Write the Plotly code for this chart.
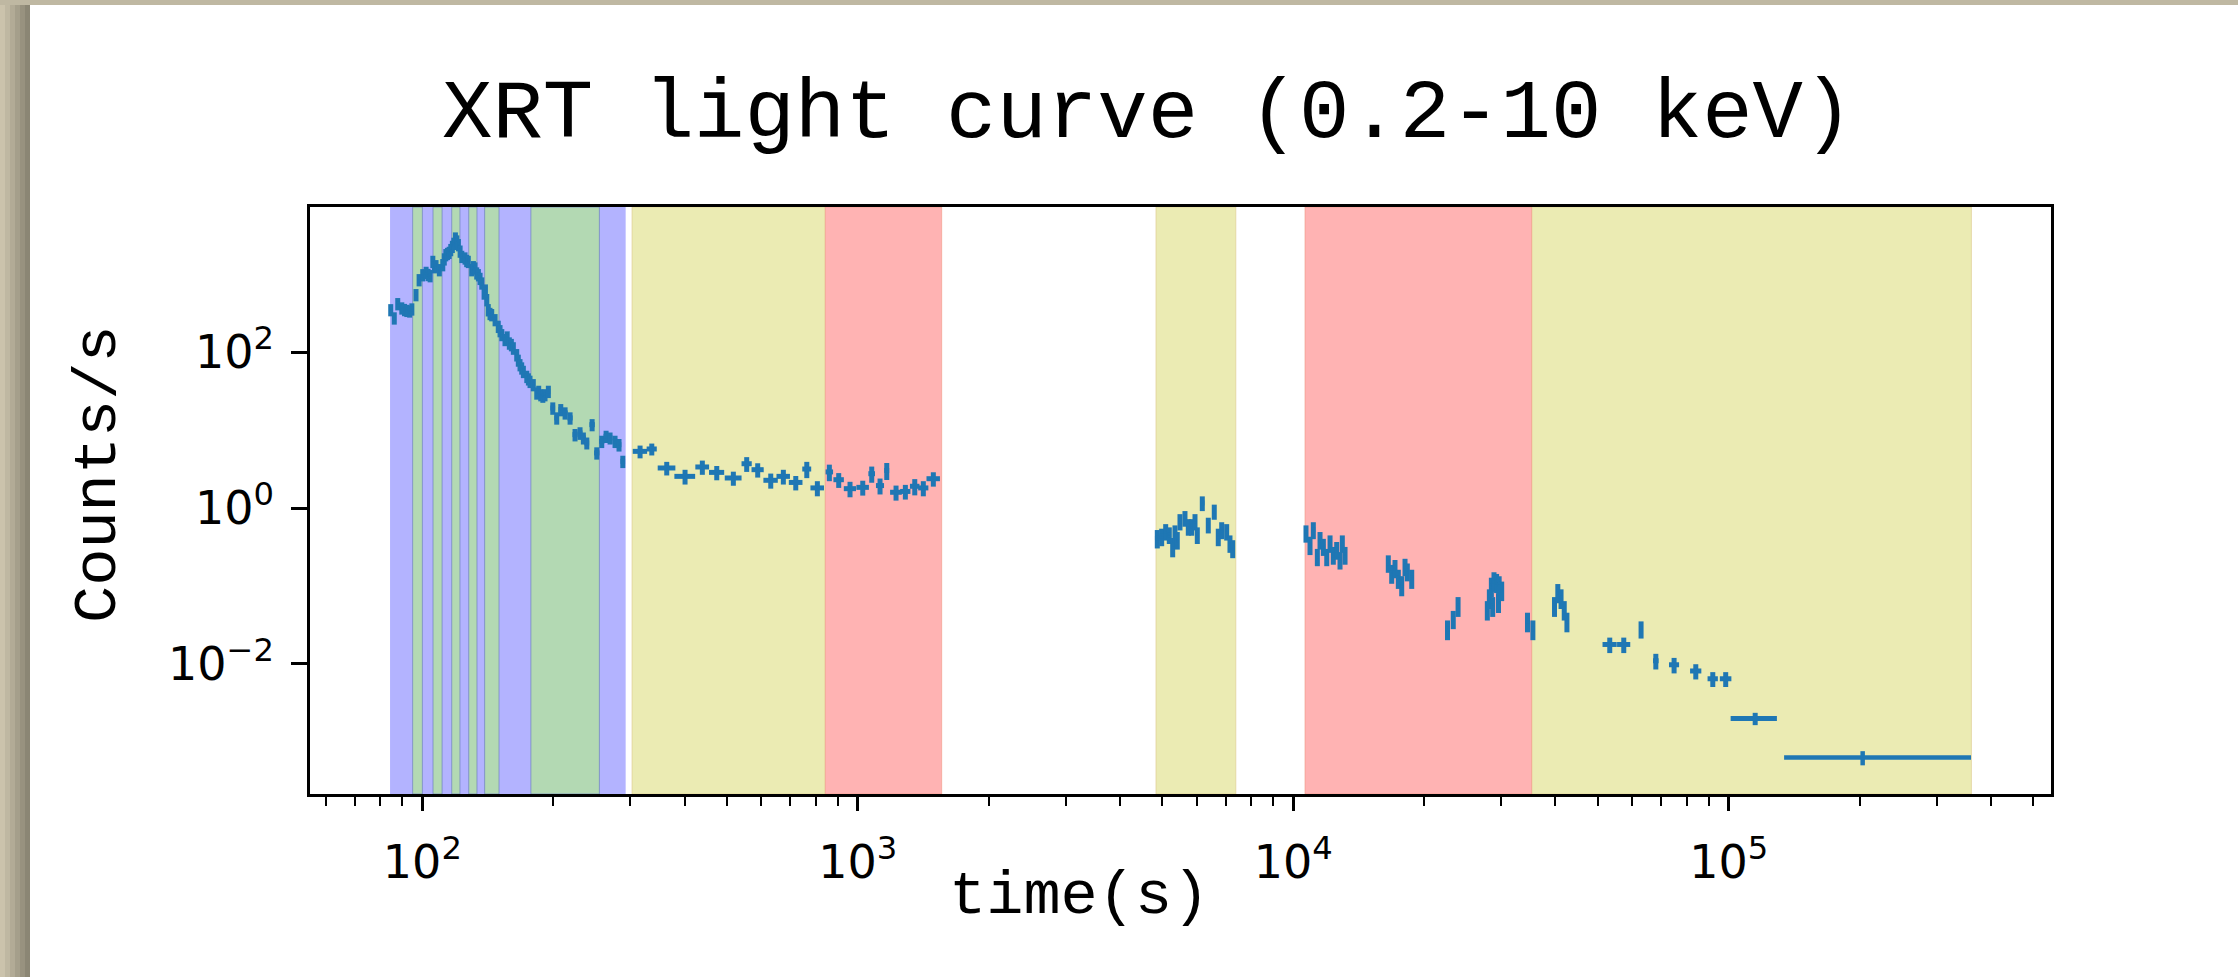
import plotly.graph_objects as go

# ---------------- data ----------------
time = [
    84.6, 86.2, 87.8, 89.7, 91.0, 92.1, 93.5, 94.6, 96.7, 98.3,
    100.2, 102.0, 103.1, 104.2, 105.7, 106.6, 107.5, 109.4, 111.4, 112.3,
    113.2, 114.2, 115.2, 116.2, 117.2, 118.1, 119.1, 120.0, 121.0, 122.1,
    123.2, 125.3, 126.4, 127.5, 129.8, 131.0, 132.1, 133.3, 134.5, 135.7,
    136.9, 138.6, 139.6, 140.6, 141.7, 143.0, 144.3, 146.9, 149.4, 150.8,
    152.2, 154.8, 156.6, 158.4, 160.1, 161.8, 164.7, 166.1, 167.6, 169.1,
    170.6, 173.7, 175.2, 176.7, 179.8, 183.1, 185.0, 187.0, 189.1, 191.3,
    194.7, 199.3, 203.5, 207.9, 212.7, 218.4, 224.2, 230.2, 234.3, 238.6,
    245.4, 251.5, 258.2, 264.2, 269.8, 277.0, 282.9, 288.6,
    316.2, 336.4, 364.1, 401.1, 439.5, 474.3, 517.8, 555.7, 589.0, 631.0,
    674.5, 720.3, 763.5, 807.4, 860.3, 903.9, 959.6, 1026.4, 1076.3, 1124.7,
    1165.3, 1224.0, 1285.8, 1351.3, 1414.0, 1490.8,
    4872, 4986, 5093, 5191, 5285, 5350, 5415, 5493, 5640, 5740,
    5844, 5947, 6020, 6181, 6380, 6585, 6726, 6848, 7031, 7155, 7259,
    10695, 10925, 11118, 11356, 11519, 11723, 11935, 12146, 12357, 12581,
    12803, 12960, 13147,
    16527, 16826, 17123, 17426, 17741, 18054, 18275, 18706,
    22600, 23300, 23900,
    27900, 28200, 28500, 28700, 28900, 29300, 29600, 29700, 30100,
    34500, 35500,
    39800, 40500, 41200, 41900, 42500,
    53300, 57400, 62900, 68000, 74900, 84000, 91900, 98400, 115000,
]
time_err = [
    0.7, 0.7, 0.7, 0.7, 0.7, 0.7, 0.7, 0.7, 0.7, 0.7,
    0.7, 0.7, 0.7, 0.7, 0.7, 0.7, 0.7, 0.7, 0.7, 0.7,
    0.7, 0.7, 0.7, 0.7, 0.7, 0.7, 0.7, 0.7, 0.7, 0.7,
    0.7, 0.7, 0.7, 0.7, 1.0, 1.0, 1.0, 1.0, 1.0, 1.0,
    1.0, 1.0, 1.0, 1.0, 1.0, 1.0, 1.0, 1.0, 1.0, 1.0,
    1.0, 1.0, 1.0, 1.0, 1.0, 1.0, 1.0, 1.0, 1.0, 1.0,
    1.0, 1.0, 1.0, 1.0, 1.0, 1.5, 1.5, 1.5, 1.5, 1.5,
    2.0, 2.5, 2.5, 2.5, 3.0, 3.0, 3.0, 3.0, 3.0, 3.0,
    3.5, 3.5, 3.5, 3.5, 3.5, 3.5, 3.5, 3.5,
    12, 9, 17, 22, 16, 19, 23, 15, 19, 24,
    24, 26, 18, 29, 17, 25, 31, 34, 19, 24,
    15, 38, 35, 34, 38, 53,
    60, 55, 50, 45, 45, 35, 35, 45, 55, 50,
    50, 45, 40, 70, 50, 60, 55, 55, 60, 55, 50,
    100, 100, 110, 100, 100, 110, 110, 110, 110, 120,
    120, 110, 120,
    150, 150, 150, 150, 150, 150, 150, 150,
    200, 200, 200,
    200, 200, 200, 200, 200, 200, 200, 200, 200,
    300, 300,
    300, 300, 300, 300, 300,
    2000, 2000, 500, 1000, 2000, 2500, 2500, 3000, 14000,
]
rate = [
    353, 277, 422, 372, 355, 346, 340, 361, 551, 857,
    993, 1064, 1000, 966, 1472, 1259, 1297, 1153, 1337, 1585,
    1795, 1862, 1923, 2089, 2296, 2512, 2938, 2692, 2415, 1995,
    1706, 1629, 1514, 1472, 1153, 1259, 1211, 1047, 993, 891,
    778, 578, 631, 475, 353, 316, 305, 263, 216, 190,
    169, 146, 158, 132, 126, 114, 93.3, 79.4, 69.5, 63.1,
    57.0, 49.2, 45.7, 42.5, 38.5, 30.1, 31.6, 28.6, 27.5, 28.6,
    31.6, 19.3, 14.4, 18.4, 16.7, 14.4, 8.79, 9.23, 7.96, 6.87,
    11.8, 5.12, 7.21, 8.36, 7.96, 7.21, 6.53, 3.99,
    5.36, 5.75, 3.28, 2.56, 3.38, 2.88, 2.44, 3.72, 3.12, 2.28,
    2.56, 2.14, 3.18, 1.82, 2.92, 2.32, 1.78, 1.85, 2.77, 1.95,
    3.05, 1.60, 1.64, 1.91, 1.82, 2.39,
    0.414, 0.435, 0.504, 0.457, 0.324, 0.481, 0.394, 0.678, 0.748, 0.583,
    0.583, 0.678, 0.457, 1.167, 0.614, 0.910, 0.435, 0.530, 0.504, 0.357, 0.308,
    0.481, 0.340, 0.530, 0.240, 0.394, 0.324, 0.240, 0.357, 0.253, 0.293,
    0.218, 0.357, 0.253,
    0.198, 0.147, 0.171, 0.127, 0.104, 0.179, 0.155, 0.127,
    0.0282, 0.0380, 0.0562,
    0.0501, 0.0708, 0.100, 0.0562, 0.1175, 0.1122, 0.0631, 0.1047, 0.0891,
    0.0355, 0.0282,
    0.0562, 0.0832, 0.0708, 0.0501, 0.0355,
    0.0178, 0.0178, 0.0282, 0.0110, 0.00977, 0.00813, 0.00646, 0.00646, 0.0020,
]
rate_err = [
    63, 50, 76, 67, 64, 62, 61, 65, 99, 154,
    179, 192, 180, 174, 265, 227, 233, 208, 241, 285,
    323, 335, 346, 376, 413, 452, 529, 485, 435, 359,
    307, 293, 273, 265, 208, 227, 218, 188, 179, 160,
    140, 104, 114, 86, 64, 57, 55, 47, 39, 34,
    30, 26, 28, 24, 23, 21, 17, 14, 12.5, 11.4,
    10.3, 8.9, 8.2, 7.7, 6.9, 5.4, 5.7, 5.1, 5.0, 5.1,
    5.7, 3.5, 2.6, 3.3, 3.0, 2.6, 1.6, 1.7, 1.4, 1.2,
    2.1, 0.92, 1.3, 1.5, 1.4, 1.3, 1.2, 0.72,
    1.0, 1.0, 0.65, 0.55, 0.7, 0.6, 0.5, 0.8, 0.65, 0.5,
    0.55, 0.45, 0.75, 0.4, 0.7, 0.5, 0.4, 0.4, 0.65, 0.45,
    0.75, 0.35, 0.35, 0.45, 0.4, 0.5,
    0.11, 0.11, 0.12, 0.11, 0.09, 0.12, 0.10, 0.16, 0.17, 0.14,
    0.14, 0.16, 0.11, 0.25, 0.14, 0.20, 0.11, 0.13, 0.12, 0.09, 0.08,
    0.12, 0.09, 0.13, 0.06, 0.10, 0.08, 0.06, 0.09, 0.065, 0.075,
    0.055, 0.09, 0.065,
    0.05, 0.04, 0.045, 0.035, 0.03, 0.045, 0.04, 0.035,
    0.008, 0.010, 0.016,
    0.014, 0.020, 0.028, 0.016, 0.033, 0.031, 0.018, 0.029, 0.025,
    0.010, 0.008,
    0.016, 0.023, 0.020, 0.014, 0.010,
    0.004, 0.004, 0.007, 0.0025, 0.0022, 0.0018, 0.0014, 0.0014, 0.00036,
]

# last (long) bin with asymmetric time error
final_time = [2.03e5]
final_time_err_minus = [6.9e4]
final_time_err_plus = [1.57e5]
final_rate = [6.3e-4]
final_rate_err = [1.3e-4]

# shaded time intervals
blue_bands = [(84.3, 293.0)]
green_bands = [(95.0, 100.0), (105.8, 111.0), (116.8, 122.0), (127.8, 133.5),
               (139.0, 150.0), (177.5, 255.0)]
yellow_bands = [(303.0, 842.0), (4838.0, 7380.0), (35270.0, 360800.0)]
red_bands = [(842.0, 1558.0), (10640.0, 35270.0)]

x_tick_vals = [1e2, 1e3, 1e4, 1e5]
x_tick_text = ["10<sup>2</sup>", "10<sup>3</sup>", "10<sup>4</sup>", "10<sup>5</sup>"]
y_tick_vals = [1e-2, 1e0, 1e2]
y_tick_text = ["10<sup>\u22122</sup>", "10<sup>0</sup>", "10<sup>2</sup>"]

# ---------------- figure ----------------
W, H = 2238, 977
L, R, T, B = 310, 2051, 207, 794   # plot area in pixels
PW, PH = R - L, B - T


def px_x(px):
    return (px - L) / PW


def px_y(py):
    return (B - py) / PH


assert len(time) == len(time_err) == len(rate) == len(rate_err)

fig = go.Figure()
blue = "#1f77b4"
fig.add_trace(go.Scatter(
    x=time, y=rate, mode="markers",
    marker=dict(size=1, color=blue),
    error_x=dict(type="data", array=time_err, thickness=5, width=0, color=blue),
    error_y=dict(type="data", array=rate_err, thickness=5, width=0, color=blue),
    showlegend=False, hoverinfo="x+y",
))
fig.add_trace(go.Scatter(
    x=final_time, y=final_rate, mode="markers",
    marker=dict(size=1, color=blue),
    error_x=dict(type="data", array=final_time_err_plus, arrayminus=final_time_err_minus,
                 symmetric=False, thickness=4.5, width=0, color=blue),
    error_y=dict(type="data", array=final_rate_err, thickness=4.5, width=0, color=blue),
    showlegend=False, hoverinfo="x+y",
))

shapes = []


def band(x0, x1, fill, edge):
    shapes.append(dict(type="rect", xref="x", yref="paper", x0=x0, x1=x1, y0=0, y1=1,
                       fillcolor=fill, line=dict(color=edge, width=1), layer="below"))


for a, b in blue_bands:
    band(a, b, "#b3b3ff", "rgba(0,0,0,0)")
for a, b in green_bands:
    band(a, b, "#b3d9b3", "rgba(110,130,190,0.7)")
for a, b in yellow_bands:
    band(a, b, "#ebebb3", "rgba(220,200,140,0.6)")
for a, b in red_bands:
    band(a, b, "#ffb3b3", "rgba(240,150,130,0.6)")

# beige picture frame (left and top edges)
frame_cols = ["#cbc3ac", "#bfb8a2", "#b2ab96", "#a59f8b", "#98927f", "#8b8674"]
for i, c in enumerate(frame_cols):
    shapes.append(dict(type="rect", xref="paper", yref="paper",
                       x0=px_x(i * 5), x1=px_x(i * 5 + 5), y0=px_y(H), y1=px_y(0),
                       fillcolor=c, line=dict(width=0), layer="above"))
shapes.append(dict(type="rect", xref="paper", yref="paper",
                   x0=px_x(0), x1=px_x(W), y0=px_y(5), y1=px_y(0),
                   fillcolor="#bfb8a2", line=dict(width=0), layer="above"))

mono = "Liberation Mono, Courier New, monospace"
annotations = [
    dict(text="XRT light curve (0.2-10 keV)", xref="paper", yref="paper",
         x=px_x(1147), y=px_y(114), xanchor="center", yanchor="middle",
         showarrow=False, font=dict(family=mono, size=84, color="black")),
    dict(text="time(s)", xref="paper", yref="paper",
         x=px_x(1079), y=px_y(896), xanchor="center", yanchor="middle",
         showarrow=False, font=dict(family=mono, size=62, color="black")),
    dict(text="Counts/s", xref="paper", yref="paper", textangle=-90,
         x=px_x(98), y=px_y(474), xanchor="center", yanchor="middle",
         showarrow=False, font=dict(family=mono, size=62, color="black")),
]

minor_x = [m * 10 ** e for e in range(1, 6) for m in range(2, 10)]

fig.update_layout(
    width=W, height=H,
    margin=dict(l=L, r=W - R, t=T, b=H - B, pad=0),
    paper_bgcolor="white", plot_bgcolor="white",
    shapes=shapes, annotations=annotations,
    showlegend=False,
    xaxis=dict(
        type="log", range=[1.742, 5.740],
        showgrid=False, zeroline=False,
        showline=True, mirror=True, linecolor="black", linewidth=2.5,
        ticks="outside", ticklen=14, tickwidth=2.5, tickcolor="black",
        tickmode="array", tickvals=x_tick_vals, ticktext=x_tick_text,
        tickfont=dict(family="DejaVu Sans", size=46, color="black"),
        ticklabelstandoff=12,
        minor=dict(ticks="outside", ticklen=9, tickwidth=2, tickcolor="black",
                   tickmode="array", tickvals=minor_x, showgrid=False),
    ),
    yaxis=dict(
        type="log", range=[-3.669, 3.866],
        showgrid=False, zeroline=False,
        showline=True, mirror=True, linecolor="black", linewidth=2.5,
        ticks="outside", ticklen=16, tickwidth=2.5, tickcolor="black",
        tickmode="array", tickvals=y_tick_vals, ticktext=y_tick_text,
        tickfont=dict(family="DejaVu Sans", size=46, color="black"),
        ticklabelstandoff=8,
    ),
)

fig.write_html("out.html")
